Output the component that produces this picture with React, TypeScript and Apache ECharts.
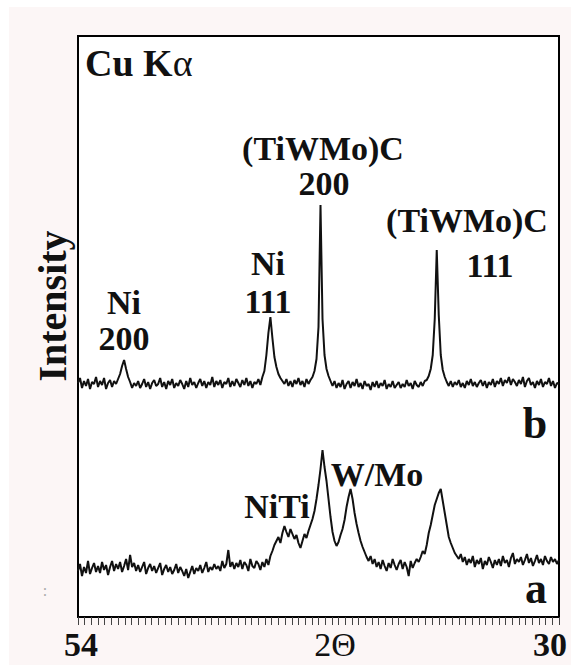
import React, { useEffect, useRef } from "react";
import * as echarts from "echarts";

// scan definition (2θ, degrees): first point and step of the measured pattern
const scanStart = 54.0;
const scanStep = 0.1;

// axis tick labels / names
const xTickLabels: Record<number, string> = { 54: "54", 30: "30" };
const xAxisTitle = "2Θ";
const yAxisTitle = "Intensity";

// upper pattern (b), intensity in arbitrary units, from 54.0 down to 30.0 deg
const patternB = [
  234, 239, 229, 236, 231, 238, 228, 235, 233, 240,
  230, 236, 232, 239, 228, 234, 237, 230, 236, 233,
  238, 243, 251, 257, 248, 240, 235, 229, 234, 231,
  236, 229, 233, 238, 230, 235, 228, 234, 237, 231,
  233, 239, 230, 235, 228, 236, 232, 238, 229, 234,
  231, 237, 233, 228, 236, 230, 239, 232, 235, 229,
  234, 238, 231, 236, 229, 235, 232, 240, 230, 236,
  232, 237, 229, 235, 233, 239, 230, 236, 231, 238,
  234, 230, 237, 232, 239, 231, 236, 229, 235, 233,
  238, 232, 240, 246, 262, 284, 300, 279, 260, 250,
  243, 239, 236, 233, 238, 231, 236, 230, 237, 233,
  239, 232, 236, 230, 238, 233, 237, 240, 246, 258,
  290, 412, 298, 262, 248, 241, 236, 231, 236, 229,
  234, 230, 237, 228, 233, 236, 229, 235, 231, 238,
  230, 234, 228, 236, 231, 233, 227, 235, 230, 236,
  229, 234, 231, 237, 228, 233, 230, 236, 229, 232,
  235, 229, 233, 230, 237, 231, 234, 228, 236, 232,
  230, 235, 231, 236, 237, 241, 248, 262, 298, 367,
  302, 262, 247, 240, 235, 231, 236, 230, 235, 232,
  237, 230, 234, 229, 236, 232, 238, 231, 235, 230,
  234, 237, 231, 236, 229, 235, 232, 238, 230, 236,
  233, 239, 231, 237, 234, 240, 232, 238, 235, 231,
  237, 233, 240, 230, 236, 239, 232, 235, 229, 236,
  232, 238, 230, 235, 233, 239, 231, 236, 229, 234,
  233,
];

// lower pattern (a), same scan
const patternA = [
  46, 53, 41, 50, 44, 56, 43, 49, 54, 45,
  51, 44, 55, 47, 52, 42, 50, 56, 46, 53,
  48, 55, 45, 51, 58, 47, 62, 50, 54, 46,
  52, 45, 50, 55, 43, 49, 53, 46, 51, 44,
  49, 54, 42, 48, 52, 45, 50, 43, 47, 53,
  44, 50, 46, 41, 48, 39, 45, 51, 43, 49,
  46, 52, 44, 49, 55, 45, 50, 47, 53, 48,
  51, 46, 56, 49, 53, 67, 50, 55, 48, 54,
  50, 57, 48, 55, 52, 46, 58, 51, 49, 56,
  53, 47, 55, 50, 58, 52, 61, 66, 72, 76,
  80, 74, 84, 91, 85, 80, 88, 83, 78, 82,
  74, 69, 76, 83, 79, 86, 92, 98, 106, 118,
  132, 148, 167, 150, 136, 118, 100, 85, 76, 71,
  75, 82, 88, 97, 110, 120, 128, 118, 104, 93,
  84, 76, 70, 65, 60, 56, 61, 53, 58, 50,
  55, 48, 57, 51, 46, 54, 49, 58, 52, 47,
  53, 57, 48, 55, 50, 41, 56, 49, 54, 58,
  55, 60, 66, 63, 72, 84, 92, 102, 112, 118,
  124, 128, 116, 104, 92, 80, 74, 69, 64, 61,
  58, 63, 55, 60, 52, 58, 54, 61, 50, 57,
  53, 59, 48, 56, 52, 60, 55, 49, 57, 52,
  58, 51, 61, 54, 57, 50, 59, 64, 53, 58,
  55, 60, 52, 57, 63, 54, 59, 51, 56, 62,
  54, 58, 52, 61, 56, 53, 60, 55, 58, 53,
  57,
];

// annotation texts
const radiationLabel = "Cu K";
const radiationSymbol = "α";
const peakLabelsB = ["Ni", "200", "Ni", "111", "(TiWMo)C", "200", "(TiWMo)C", "111"];
const peakLabelsA = ["NiTi", "W/Mo"];
const traceNames = ["a", "b"];

const twoTheta = patternA.map((_, i) => +(scanStart - i * scanStep).toFixed(1));

const FONT = "'Liberation Serif', 'Times New Roman', serif";
const INK = "#111";

function txt(text: string, x: number, y: number, size: number, opts: any = {}) {
  return {
    type: "text",
    x,
    y,
    rotation: opts.rotation || 0,
    silent: true,
    style: {
      text,
      fill: opts.fill || INK,
      fontFamily: FONT,
      fontWeight: opts.weight || "bold",
      fontSize: size,
      align: opts.align || "center",
      verticalAlign: "middle",
    },
  };
}

export default function App() {
  const ref = useRef<HTMLDivElement>(null);

  useEffect(() => {
    if (!ref.current) return;
    const chart = echarts.init(ref.current, undefined, { renderer: "svg" });
    const option: any = {
      animation: false,
      backgroundColor: "#fcf6f6",
      grid: {
        left: 78,
        right: 12,
        top: 36,
        bottom: 48,
        containLabel: false,
        outerBoundsMode: "none",
        show: true,
        backgroundColor: "#ffffff",
        borderColor: "#000",
        borderWidth: 2,
      },
      xAxis: {
        type: "value",
        min: 30,
        max: 54,
        interval: 1,
        inverse: true,
        z: 10,
        axisLine: { show: true, onZero: false, lineStyle: { color: "#000", width: 2 } },
        axisTick: { show: true, inside: false, length: 8, lineStyle: { color: "#444", width: 1 } },
        minorTick: { show: true, splitNumber: 3, length: 8, lineStyle: { color: "#444", width: 1 } },
        splitLine: { show: false },
        minorSplitLine: { show: false },
        axisLabel: {
          show: true,
          margin: 10,
          showMinLabel: true,
          showMaxLabel: true,
          formatter: (v: number) => {
            const t = xTickLabels[Math.round(v * 1000) / 1000];
            if (!t) return "";
            return v === 54 ? `{l|${t}}` : `{r|${t}}`;
          },
          rich: {
            l: { fontFamily: FONT, fontWeight: "bold", fontSize: 34, color: INK, padding: [0, 0, 0, 6] },
            r: { fontFamily: FONT, fontWeight: "bold", fontSize: 34, color: INK, padding: [0, 18, 0, 0] },
          },
        },
        name: xAxisTitle,
        nameLocation: "middle",
        nameGap: 10,
        nameMoveOverlap: false,
        nameTextStyle: {
          fontFamily: FONT,
          fontSize: 34,
          color: INK,
          verticalAlign: "top",
          padding: [0, 0, 0, 33],
        },
      },
      yAxis: { type: "value", min: 0, max: 581, show: false },
      series: [
        {
          name: traceNames[1],
          type: "line",
          data: twoTheta.map((x, i) => [x, patternB[i]]),
          symbol: "none",
          silent: true,
          lineStyle: { color: INK, width: 2 },
        },
        {
          name: traceNames[0],
          type: "line",
          data: twoTheta.map((x, i) => [x, patternA[i]]),
          symbol: "none",
          silent: true,
          lineStyle: { color: INK, width: 2 },
        },
      ],
      graphic: [
        { type: "rect", silent: true, z: -10, shape: { x: 0, y: 0, width: 571, height: 7 }, style: { fill: "#fff" } },
        { type: "rect", silent: true, z: -10, shape: { x: 0, y: 0, width: 9, height: 665 }, style: { fill: "#fff" } },
        {
          type: "text",
          x: 85,
          y: 63,
          silent: true,
          style: {
            text: `{b|${radiationLabel}}{n|${radiationSymbol}}`,
            align: "left",
            verticalAlign: "middle",
            rich: {
              b: { fontFamily: FONT, fontWeight: "bold", fontSize: 38, fill: INK, color: INK },
              n: { fontFamily: FONT, fontWeight: "normal", fontSize: 38, fill: INK, color: INK },
            },
          },
        },
        txt(yAxisTitle, 52, 306, 40, { rotation: Math.PI / 2 }),
        txt(peakLabelsB[0], 124, 302, 34),
        txt(peakLabelsB[1], 124, 338, 34),
        txt(peakLabelsB[2], 268, 263, 34),
        txt(peakLabelsB[3], 268, 301, 34),
        txt(peakLabelsB[4], 323, 148, 34),
        txt(peakLabelsB[5], 324, 183, 34),
        txt(peakLabelsB[6], 467, 220, 34),
        txt(peakLabelsB[7], 490, 265, 34),
        txt(peakLabelsA[0], 277, 506, 34),
        txt(peakLabelsA[1], 377, 474, 34),
        txt(traceNames[1], 535, 423, 44),
        txt(traceNames[0], 536, 588, 44),
        txt(":", 45, 590, 16, { fill: "#aaa", weight: "normal" }),
      ],
    };
    chart.setOption(option);
    return () => chart.dispose();
  }, []);

  return (
    <div
      ref={ref}
      style={{ position: "absolute", left: 0, top: 0, width: 571, height: 665 }}
    />
  );
}
